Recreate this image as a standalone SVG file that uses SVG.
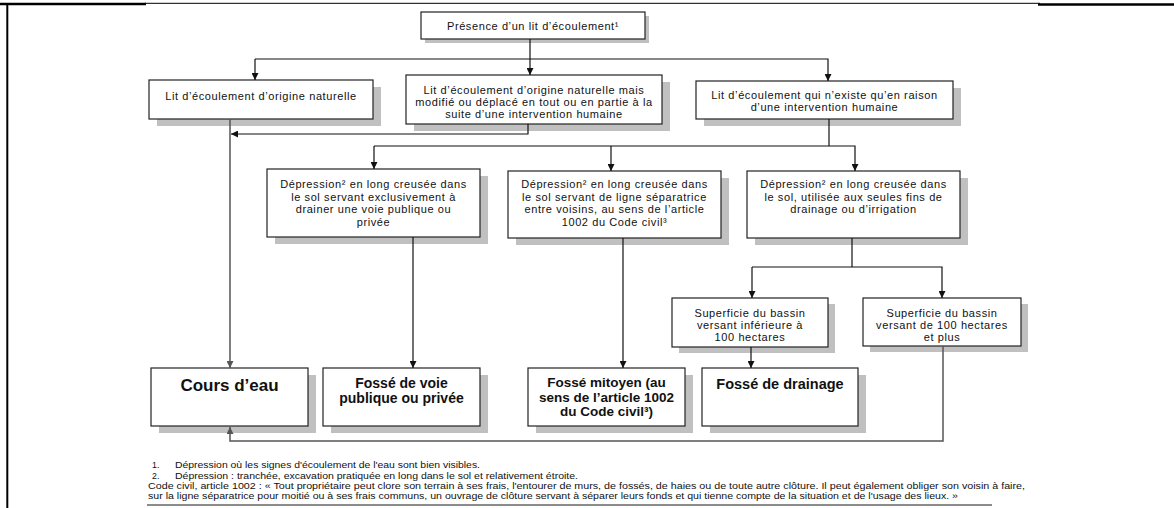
<svg xmlns="http://www.w3.org/2000/svg" width="1174" height="508" viewBox="0 0 1174 508">
<style>
.box{fill:#fff;stroke:#222;stroke-width:1.2}
.sh{fill:#c0c0c0}
.t{font-family:"Liberation Sans",Arial,sans-serif;font-size:11px;letter-spacing:0.6px;fill:#111;text-anchor:middle}
.b{font-family:"Liberation Sans",Arial,sans-serif;font-size:14px;font-weight:bold;fill:#111;text-anchor:middle}
.fn{font-family:"Liberation Sans",Arial,sans-serif;font-size:8.8px;fill:#111}
.c{fill:none;stroke:#111;stroke-width:1.2}
.g{fill:none;stroke:#555;stroke-width:1.5}
</style>
<defs>
<marker id="ah" viewBox="0 0 10 10" refX="10" refY="5" markerWidth="7" markerHeight="7" markerUnits="userSpaceOnUse" orient="auto"><path d="M0,0 L10,5 L0,10 z" fill="#111"/></marker>
<marker id="ahg" viewBox="0 0 10 10" refX="10" refY="5" markerWidth="7" markerHeight="7" markerUnits="userSpaceOnUse" orient="auto"><path d="M0,0 L10,5 L0,10 z" fill="#555"/></marker>
</defs>
<rect width="1174" height="508" fill="#fff"/>
<g id="frame">
<line x1="0" y1="4" x2="146" y2="4" stroke="#000" stroke-width="2.5"/>
<line x1="145" y1="3.3" x2="1040" y2="3.3" stroke="#000" stroke-width="1"/>
<line x1="1038" y1="4.5" x2="1174" y2="4.5" stroke="#000" stroke-width="2.5"/>
<line x1="7.3" y1="3" x2="7.3" y2="508" stroke="#000" stroke-width="2"/>
</g>
<g id="n-presence">
<rect class="sh" x="425" y="16" width="224" height="27"/>
<rect class="box" x="421" y="12" width="224" height="27"/>
<text class="t" x="533" y="30">Présence d’un lit d’écoulement¹</text>
</g>
<g id="n-naturelle">
<rect class="sh" x="157" y="87" width="224" height="39"/>
<rect class="box" x="149" y="80" width="224" height="39"/>
<text class="t" x="261" y="100">Lit d’écoulement d’origine naturelle</text>
</g>
<g id="n-modifie">
<rect class="sh" x="414" y="82" width="256" height="49"/>
<rect class="box" x="406" y="75" width="256" height="49"/>
<text class="t" x="534" y="94">Lit d’écoulement d’origine naturelle mais</text>
<text class="t" x="534" y="106">modifié ou déplacé en tout ou en partie à la</text>
<text class="t" x="534" y="118">suite d’une intervention humaine</text>
</g>
<g id="n-humaine">
<rect class="sh" x="704" y="88" width="257" height="38"/>
<rect class="box" x="696" y="81" width="257" height="38"/>
<text class="t" x="824.5" y="99">Lit d’écoulement qui n’existe qu’en raison</text>
<text class="t" x="824.5" y="111">d’une intervention humaine</text>
</g>
<g id="n-dep1">
<rect class="sh" x="275" y="176" width="213" height="68"/>
<rect class="box" x="267" y="169" width="213" height="68"/>
<text class="t" x="373.5" y="188">Dépression² en long creusée dans</text>
<text class="t" x="373.5" y="200.5">le sol servant exclusivement à</text>
<text class="t" x="373.5" y="213">drainer une voie publique ou</text>
<text class="t" x="373.5" y="225.5">privée</text>
</g>
<g id="n-dep2">
<rect class="sh" x="516" y="178" width="213" height="67"/>
<rect class="box" x="508" y="171" width="213" height="67"/>
<text class="t" x="614.5" y="188">Dépression² en long creusée dans</text>
<text class="t" x="614.5" y="200.5">le sol servant de ligne séparatrice</text>
<text class="t" x="614.5" y="213">entre voisins, au sens de l’article</text>
<text class="t" x="614.5" y="225.5">1002 du Code civil³</text>
</g>
<g id="n-dep3">
<rect class="sh" x="755" y="178" width="213" height="67"/>
<rect class="box" x="747" y="171" width="213" height="67"/>
<text class="t" x="853.5" y="188">Dépression² en long creusée dans</text>
<text class="t" x="853.5" y="200.5">le sol, utilisée aux seules fins de</text>
<text class="t" x="853.5" y="213">drainage ou d’irrigation</text>
</g>
<g id="n-sup1">
<rect class="sh" x="679" y="304" width="156" height="49"/>
<rect class="box" x="672" y="298" width="156" height="49"/>
<text class="t" x="750" y="317">Superficie du bassin</text>
<text class="t" x="750" y="329">versant inférieure à</text>
<text class="t" x="750" y="341">100 hectares</text>
</g>
<g id="n-sup2">
<rect class="sh" x="870" y="304" width="158" height="48"/>
<rect class="box" x="863" y="298" width="158" height="48"/>
<text class="t" x="942" y="317">Superficie du bassin</text>
<text class="t" x="942" y="329">versant de 100 hectares</text>
<text class="t" x="942" y="341">et plus</text>
</g>
<g id="n-cours">
<rect class="sh" x="159" y="375" width="157" height="58"/>
<rect class="box" x="151" y="368" width="157" height="58"/>
<text class="b" x="229.5" y="391" style="font-size:17px">Cours d’eau</text>
</g>
<g id="n-voie">
<rect class="sh" x="331" y="375" width="157" height="58"/>
<rect class="box" x="323" y="368" width="157" height="58"/>
<text class="b" x="401.5" y="388">Fossé de voie</text>
<text class="b" x="401.5" y="403">publique ou privée</text>
</g>
<g id="n-mitoyen">
<rect class="sh" x="536" y="375" width="157" height="58"/>
<rect class="box" x="528" y="368" width="157" height="58"/>
<text class="b" x="606.5" y="387" style="font-size:13.5px">Fossé mitoyen (au</text>
<text class="b" x="606.5" y="401.5" style="font-size:13.5px">sens de l’article 1002</text>
<text class="b" x="606.5" y="416" style="font-size:13.5px">du Code civil³)</text>
</g>
<g id="n-drainage">
<rect class="sh" x="710" y="375" width="156" height="58"/>
<rect class="box" x="702" y="368" width="156" height="58"/>
<text class="b" x="780" y="389" style="font-size:14.5px">Fossé de drainage</text>
</g>
<g id="connectors">
<line class="c" x1="530" y1="39" x2="530" y2="75" marker-end="url(#ah)"/>
<polyline class="c" points="255,59 828,59 828,81" marker-end="url(#ah)"/>
<line class="c" x1="255" y1="59" x2="255" y2="80" marker-end="url(#ah)"/>
<line class="g" x1="230" y1="119" x2="230" y2="368" marker-end="url(#ahg)"/>
<polyline class="c" points="528,124 528,134 231,134" marker-end="url(#ah)"/>
<line class="c" x1="829" y1="119" x2="829" y2="146"/>
<polyline class="c" points="374,146 855,146 855,171" marker-end="url(#ah)"/>
<line class="c" x1="374" y1="146" x2="374" y2="169" marker-end="url(#ah)"/>
<line class="c" x1="611" y1="146" x2="611" y2="171" marker-end="url(#ah)"/>
<line class="c" x1="413" y1="237" x2="413" y2="368" marker-end="url(#ah)"/>
<line class="c" x1="623" y1="238" x2="623" y2="368" marker-end="url(#ah)"/>
<line class="c" x1="852" y1="238" x2="852" y2="267"/>
<polyline class="c" points="752,267 942,267 942,298" marker-end="url(#ah)"/>
<line class="c" x1="752" y1="267" x2="752" y2="298" marker-end="url(#ah)"/>
<line class="c" x1="751" y1="347" x2="751" y2="368" marker-end="url(#ah)"/>
<polyline class="g" points="943,346 943,441 230,441 230,427" marker-end="url(#ahg)"/>
</g>
<g id="footnotes">
<text class="fn" x="152" y="468">1.</text>
<text class="fn" x="175" y="468" textLength="305" lengthAdjust="spacingAndGlyphs">Dépression où les signes d'écoulement de l'eau sont bien visibles.</text>
<text class="fn" x="152" y="478.5">2.</text>
<text class="fn" x="175" y="478.5" textLength="403" lengthAdjust="spacingAndGlyphs">Dépression : tranchée, excavation pratiquée en long dans le sol et relativement étroite.</text>
<text class="fn" x="148" y="488.5" textLength="877" lengthAdjust="spacingAndGlyphs">Code civil, article 1002 : « Tout propriétaire peut clore son terrain à ses frais, l'entourer de murs, de fossés, de haies ou de toute autre clôture. Il peut également obliger son voisin à faire,</text>
<text class="fn" x="148" y="498.5" textLength="810" lengthAdjust="spacingAndGlyphs">sur la ligne séparatrice pour moitié ou à ses frais communs, un ouvrage de clôture servant à séparer leurs fonds et qui tienne compte de la situation et de l'usage des lieux. »</text>
<line x1="147" y1="505" x2="992" y2="505" stroke="#666" stroke-width="1.3"/>
</g>
</svg>
